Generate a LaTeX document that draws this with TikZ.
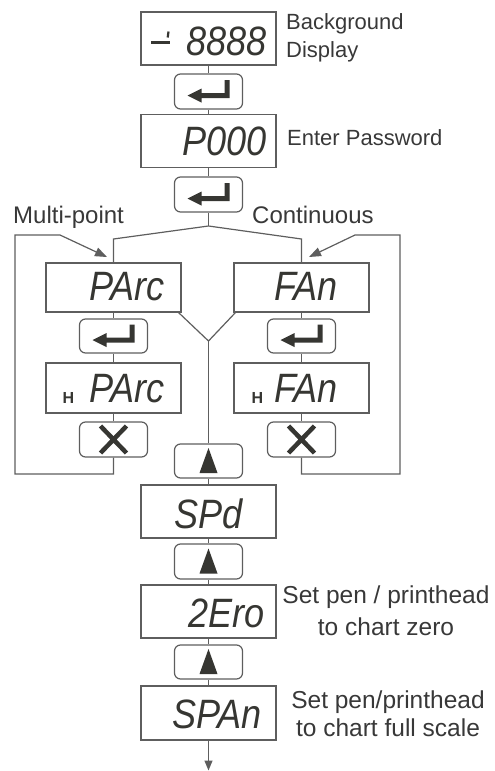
\documentclass[tikz,border=0pt]{standalone}
\usepackage{fontspec}
\setmainfont{Liberation Sans}
\newfontfamily\segfont{Liberation Sans}[FakeStretch=0.88]
\usetikzlibrary{arrows.meta,calc}
\definecolor{ln}{HTML}{5E5E5E}
\definecolor{ink}{HTML}{363632}
\definecolor{txt}{HTML}{383838}
\newcommand\EnterIcon[1]{\fill[ink,shift={(#1)}] (-21,4) -- (-7,-3) -- (-7,1.5) -- (16,1.5) -- (16,-11.5) -- (21,-11.5) -- (21,6.5) -- (-7,6.5) -- (-7,11) -- cycle;}
\newcommand\CrossIcon[1]{\draw[ink,line width=4.5pt,shift={(#1)}] (-13,-13.5) -- (13,13.5) (-13,13.5) -- (13,-13.5);}
\newcommand\UpIcon[1]{\fill[ink,shift={(#1)}] (0,-13) -- (9,12) -- (-9,12) -- cycle;}
\begin{document}
\begin{tikzpicture}[x=1pt,y=-1pt,
  disp/.style={draw=ln,line width=1.2pt,minimum width=135pt,minimum height=53pt,inner sep=0pt},
  btn/.style={draw=ln,line width=1.2pt,rounded corners=6pt,minimum width=68pt,minimum height=35pt,inner sep=0pt},
  conn/.style={draw=ln,line width=1.2pt},
  seg/.style={font=\segfont\itshape\fontsize{41}{41}\selectfont,text=ink,inner sep=0pt,anchor=base east},
  hsmall/.style={font=\bfseries\fontsize{16}{16}\selectfont,text=ink,inner sep=0pt,anchor=base},
  lbl/.style={font=\fontsize{24}{28}\selectfont,text=txt,inner sep=0pt},
  looptip/.style={-{Triangle[length=12pt,width=9pt]}}]
\useasboundingbox (0,0) rectangle (495,771);
% main column top
\node[disp] (bg) at (208.5,38.5) {};
\node[seg] (bgtxt) at (267,55) {8888};
\draw[ink,line width=2.2pt] (151,42.5) -- (170,42.5);
\draw[ink,line width=2.2pt] (168.5,31.5) -- (167.7,37.5);
\node[btn] (ent1) at (208.5,91.5) {};
\EnterIcon{ent1}
\node[disp] (pw) at (208.5,141) {};
\node[seg] (pwtxt) at (267,155) {P000};
\node[btn] (ent2) at (208.5,194.5) {};
\EnterIcon{ent2}
\coordinate (j) at (208.5,226);
\coordinate (jl) at (113.5,239);
\coordinate (jr) at (301.5,239);
% branches
\node[disp,minimum height=49pt] (parc) at (113.5,287.5) {};
\node[seg] (parctxt) at (165,300) {PArc};
\node[disp,minimum height=49pt] (fan) at (301.5,287.5) {};
\node[seg] (fantxt) at (338,300) {FAn};
\node[btn,minimum height=34pt] (entl) at (113.5,336) {};
\EnterIcon{entl}
\node[btn,minimum height=34pt] (entr) at (301.5,336) {};
\EnterIcon{entr}
\node[disp,minimum height=50pt] (hparc) at (113.5,388) {};
\node[hsmall] (hl) at (68.5,403) {H};
\node[seg] (hparctxt) at (165,402) {PArc};
\node[disp,minimum height=50pt] (hfan) at (301.5,388) {};
\node[hsmall] (hr) at (257.5,403) {H};
\node[seg] (hfantxt) at (338,402) {FAn};
\node[btn] (xl) at (113.5,439.5) {};
\CrossIcon{xl}
\node[btn] (xr) at (301.5,439.5) {};
\CrossIcon{xr}
% lower main column
\node[btn,minimum height=34pt] (up1) at (208.5,461) {};
\UpIcon{up1}
\node[disp] (spd) at (208.5,511.5) {};
\node[seg] (spdtxt) at (243,528) {SPd};
\node[btn] (up2) at (208.5,561.5) {};
\UpIcon{up2}
\node[disp] (zero) at (208.5,611.5) {};
\node[seg] (zerotxt) at (265,627) {2Ero};
\node[btn,minimum height=34pt] (up3) at (208.5,662) {};
\UpIcon{up3}
\node[disp,minimum height=54pt] (span) at (208.5,713) {};
\node[seg] (spantxt) at (262,728) {SPAn};
\coordinate (end) at (208.5,770.5);
% loop coordinates
\coordinate (lbot) at (15,474);
\coordinate (ltop) at (15,235);
\coordinate (lknee) at (60,235);
\coordinate (larr) at (107,257);
\coordinate (rbot) at (400,474);
\coordinate (rtop) at (400,235);
\coordinate (rknee) at (355,235);
\coordinate (rarr) at (309,257);
\coordinate (v) at (208.5,341);
% connectors
\draw[conn] (bg) -- (ent1);
\draw[conn] (ent1) -- (pw);
\draw[conn] (pw) -- (ent2);
\draw[conn] (ent2.south) -- (j);
\draw[conn] (j) -- (jl) -- (parc.north);
\draw[conn] (j) -- (jr) -- (fan.north);
\draw[conn] (parc) -- (entl);
\draw[conn] (entl) -- (hparc);
\draw[conn] (hparc) -- (xl);
\draw[conn] (fan) -- (entr);
\draw[conn] (entr) -- (hfan);
\draw[conn] (hfan) -- (xr);
\draw[conn,looptip] (xl.south) -- (xl.south |- lbot) -- (lbot) -- (ltop) -- (lknee) -- (larr);
\draw[conn,looptip] (xr.south) -- (xr.south |- rbot) -- (rbot) -- (rtop) -- (rknee) -- (rarr);
\draw[conn] ($(parc.south east)+(-3,0)$) -- (v) -- ($(fan.south west)+(2,0)$);
\draw[conn] (v) -- (up1);
\draw[conn] (up1) -- (spd);
\draw[conn] (spd) -- (up2);
\draw[conn] (up2) -- (zero);
\draw[conn] (zero) -- (up3);
\draw[conn] (up3) -- (span);
\draw[conn,-{Triangle[length=10pt,width=8pt]}] (span) -- (end);
% labels
\node[lbl,font=\fontsize{22}{28}\selectfont,align=left,anchor=west] (lbg) at (286,38) {Background\\Display};
\node[lbl,font=\fontsize{22}{28}\selectfont,anchor=base west] (lpw) at (287,145) {Enter Password};
\node[lbl,anchor=base west] (lmp) at (13,223) {Multi-point};
\node[lbl,anchor=base west] (lco) at (252,223) {Continuous};
\node[lbl,font=\fontsize{24.5}{32}\selectfont,align=center] (lz) at (386,610.5) {Set pen / printhead\\to chart zero};
\node[lbl,font=\fontsize{24.5}{28}\selectfont,align=center] (ls) at (388,713.5) {Set pen/printhead\\to chart full scale};
\end{tikzpicture}
\end{document}
